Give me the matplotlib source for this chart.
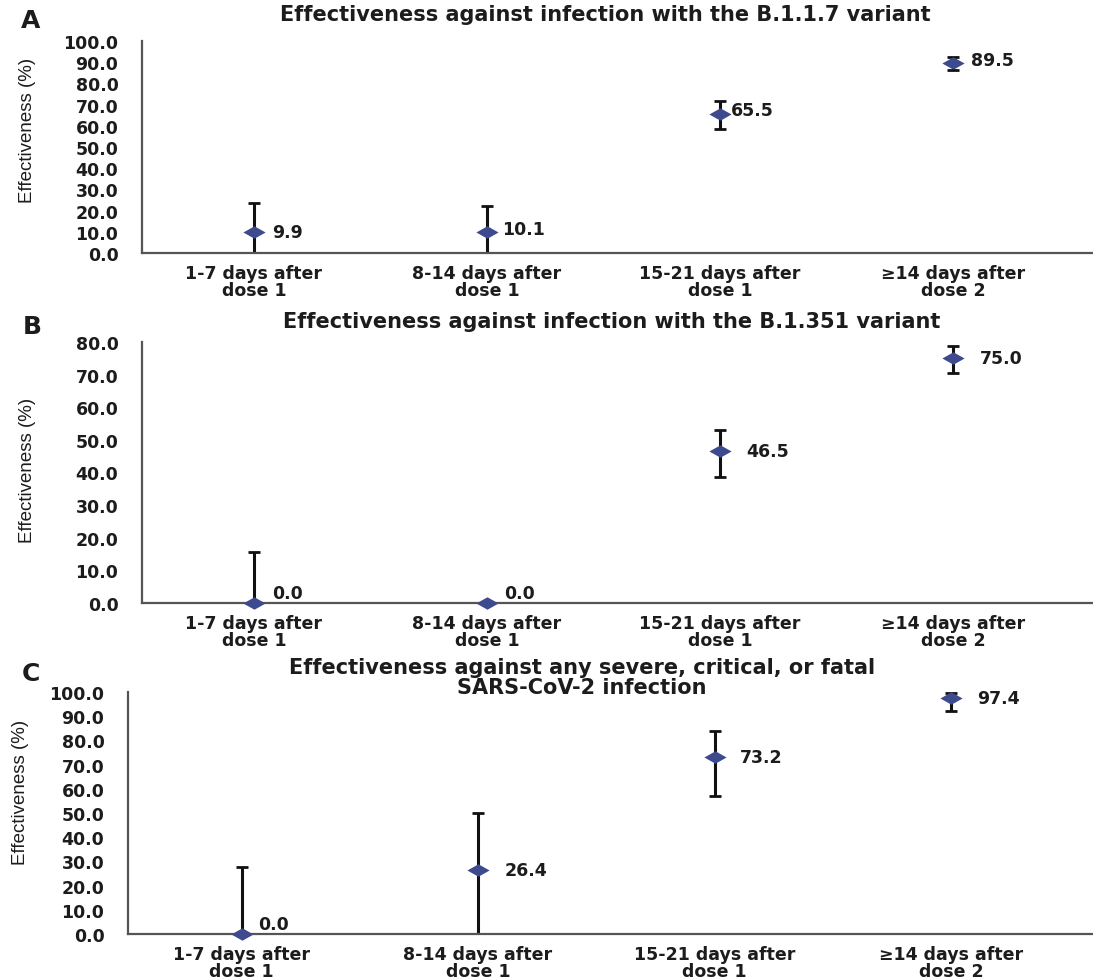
import numpy as np
import matplotlib.pyplot as plt
from matplotlib.path import Path

# -----------------------------------------------------
# DATA
# -----------------------------------------------------

categories = [
    "1-7 days after\ndose 1",
    "8-14 days after\ndose 1",
    "15-21 days after\ndose 1",
    "\u226514 days after\ndose 2",
]

titles = [
    "Effectiveness against infection with the B.1.1.7 variant",
    "Effectiveness against infection with the B.1.351 variant",
    "Effectiveness against any severe, critical, or fatal\nSARS-CoV-2 infection",
]
panel_letters = ["A", "B", "C"]

eff_a = [9.9, 10.1, 65.5, 89.5]
low_a = [0.0, 0.0, 58.5, 86.3]
high_a = [23.6, 22.2, 71.7, 92.4]

eff_b = [0.0, 0.0, 46.5, 75.0]
low_b = [0.0, 0.0, 38.7, 70.5]
high_b = [15.6, 0.0, 53.1, 78.9]

eff_c = [0.0, 26.4, 73.2, 97.4]
low_c = [0.0, 0.0, 57.1, 92.2]
high_c = [27.7, 50.0, 84.0, 99.5]

y_max = [100, 80, 100]

# -----------------------------------------------------
# STYLE
# -----------------------------------------------------

plt.rcParams["font.family"] = ["DejaVu Sans"]
TEXT = "#1c1c1c"
SPINE = "#555555"
MARKER = "#3d4a8e"
NARROW = ["Liberation Sans", "DejaVu Sans"]

# flattened diamond like the original
diamond = Path([(-1, 0), (0, 0.56), (1, 0), (0, -0.56), (-1, 0)],
               [Path.MOVETO, Path.LINETO, Path.LINETO, Path.LINETO, Path.CLOSEPOLY])

W, H = 1093, 979
fig = plt.figure(figsize=(W / 100, H / 100), dpi=100)

# axes boxes in pixels: left, bottom(y from top), top(y from top)
boxes = [(142, 254, 42), (142, 604, 343), (128, 935, 693)]
title_pos = [(605, 15), (612, 322), (582, 678)]
letter_pos = [(31, 21), (32, 327), (31, 674)]
ylabel_pos = [(28, 130), (28, 470), (21, 792)]
# label offsets (points) per value text
label_dx = [
    [13, 11, 8, 13],
    [13, 12, 19, 19],
    [12, 19, 18, 19],
]
label_dy = [
    [0, 2, 3, 2],
    [7, 7, 0, 0],
    [7, 0, 0, 0],
]

data = [(eff_a, low_a, high_a), (eff_b, low_b, high_b), (eff_c, low_c, high_c)]
x = np.arange(len(categories))

for i, (eff, low, high) in enumerate(data):
    left, bot, top = boxes[i]
    ax = fig.add_axes([left / W, 1 - bot / H, 1 - left / W, (bot - top) / H])
    eff = np.array(eff)
    yerr = np.vstack([eff - np.array(low), np.array(high) - eff])

    ax.errorbar(x, eff, yerr=yerr, fmt="none", ecolor="#111111",
                elinewidth=2.2, capsize=4, capthick=2.0, zorder=2)
    ax.plot(x, eff, linestyle="none", marker=diamond, markersize=16,
            color=MARKER, markeredgewidth=0, zorder=3, clip_on=False)

    for j, v in enumerate(eff):
        ax.annotate(f"{v:.1f}", (x[j], v), xytext=(label_dx[i][j], label_dy[i][j]),
                    textcoords="offset points", ha="left", va="center",
                    fontsize=12.5, fontweight="bold", color=TEXT)

    ax.set_xlim(-0.48, 3.6)
    ax.set_ylim(0, y_max[i])
    ax.set_yticks(np.arange(0, y_max[i] + 1, 10))
    ax.set_yticklabels([f"{t:.1f}" for t in np.arange(0, y_max[i] + 1, 10)])
    ax.set_xticks(x)
    ax.set_xticklabels(categories, linespacing=0.9)

    ax.tick_params(axis="y", length=0, pad=17, labelsize=12.5, labelcolor=TEXT)
    ax.tick_params(axis="x", length=0, pad=8, labelsize=12.5, labelcolor=TEXT)
    for lab in ax.get_xticklabels() + ax.get_yticklabels():
        lab.set_fontweight("bold")

    for s in ["top", "right"]:
        ax.spines[s].set_visible(False)
    for s in ["left", "bottom"]:
        ax.spines[s].set_color(SPINE)
        ax.spines[s].set_linewidth(1.6)

    tx, ty = title_pos[i]
    fig.text(tx / W, 1 - ty / H, titles[i], ha="center", va="center",
             fontsize=15, fontweight="bold", color=TEXT, linespacing=0.95)
    lx, ly = letter_pos[i]
    fig.text(lx / W, 1 - ly / H, panel_letters[i], ha="center", va="center",
             fontsize=18, fontweight="bold", color=TEXT)
    yx, yy = ylabel_pos[i]
    fig.text(yx / W, 1 - yy / H, "Effectiveness (%)", rotation=90,
             ha="center", va="center", fontsize=13.5, family=NARROW, color=TEXT)

fig.savefig("out.png", dpi=100, facecolor="white")
